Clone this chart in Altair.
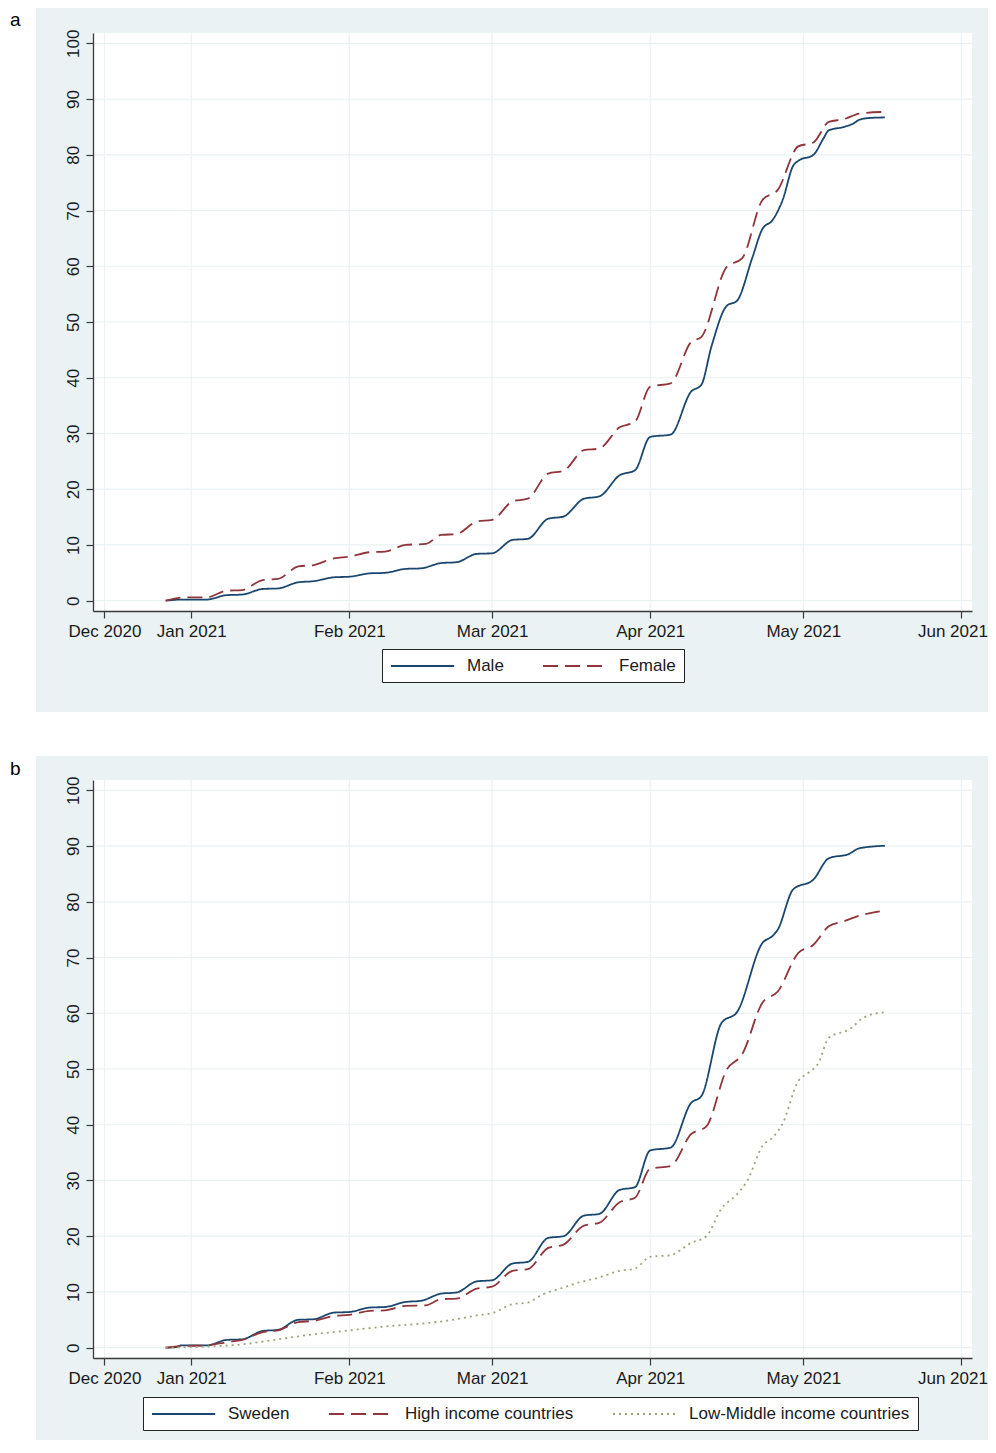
import altair as alt
import pandas as pd

FONT = "Liberation Sans"
BG = "#EAF2F3"
GRID = "#EAF2F3"
AXIS = "#3a3a3a"
TXT = "#1a1a1a"

# ---------------- Panel a : Male / Female (days since 1 Jan 2021) ----------------
male_days = [-5, -2, 3, 7, 10, 14, 17, 21, 24, 28, 31, 35, 38, 42, 45, 49, 52, 56, 59,
             63, 66, 70, 73, 77, 80, 84, 87, 90, 94, 98, 100, 102, 105, 107, 110, 112,
             114, 116, 118, 119, 122, 124, 125, 128, 130, 131, 133, 136]
male_vals = [0, 0.2, 0.2, 1.0, 1.1, 2.1, 2.2, 3.3, 3.5, 4.2, 4.3, 4.9, 5.0, 5.7, 5.8, 6.75, 6.9, 8.4, 8.5,
             10.9, 11.1, 14.7, 15.1, 18.3, 18.7, 22.5, 23.4, 29.4, 29.8, 37.5, 38.7, 45.6, 52.9, 53.8, 61.5, 66.7,
             68.3, 72.0, 78.0, 78.9, 80.0, 83.0, 84.4, 85.0, 85.7, 86.3, 86.6, 86.7]

female_days = [-5, -1, 3, 7, 10, 14, 17, 21, 24, 28, 31, 35, 38, 42, 46, 49, 52, 56, 59,
               63, 66, 70, 73, 77, 80, 84, 87, 90, 94, 98, 100, 105, 108, 112, 115, 119,
               122, 125, 128, 131, 136]
female_vals = [0, 0.6, 0.6, 1.8, 1.9, 3.7, 3.9, 6.15, 6.4, 7.6, 7.9, 8.7, 8.8, 10.0, 10.2, 11.8, 11.95, 14.2, 14.5,
               17.8, 18.3, 22.8, 23.3, 27.0, 27.3, 31.1, 32.1, 38.4, 39.0, 46.4, 47.3, 59.9, 61.4, 71.9, 73.7, 81.5,
               82.2, 85.9, 86.4, 87.4, 87.7]

# ---------------- Panel b : Sweden / income groups ----------------
sweden_days = [-5, -3, -2, 3, 7, 10, 14, 17, 21, 24, 28, 31, 35, 38, 42, 45, 49, 52, 56, 59,
               63, 66, 70, 73, 77, 80, 84, 87, 90, 94, 98, 100, 104, 107, 112, 114, 115, 118,
               122, 125, 129, 131, 136]
sweden_vals = [0, 0.1, 0.4, 0.4, 1.4, 1.5, 3.0, 3.2, 5.0, 5.1, 6.3, 6.4, 7.2, 7.3, 8.2, 8.4, 9.7, 9.9, 11.9, 12.1,
               15.1, 15.4, 19.7, 20.0, 23.7, 24.0, 28.3, 28.8, 35.4, 35.9, 43.9, 45.1, 58.3, 60.2, 72.6, 73.9, 75.0, 82.2,
               84.0, 87.8, 88.6, 89.6, 90.05]

high_days = [-5, -2, 3, 7, 10, 14, 17, 21, 24, 28, 31, 35, 38, 42, 46, 49, 52, 56, 59,
             63, 66, 70, 73, 77, 80, 84, 87, 90, 94, 98, 101, 105, 108, 112, 115, 119,
             122, 125, 128, 131, 135]
high_vals = [0, 0.3, 0.4, 1.0, 1.4, 2.8, 3.1, 4.6, 4.8, 5.7, 5.9, 6.6, 6.7, 7.5, 7.6, 8.7, 8.8, 10.6, 10.95,
             13.8, 14.1, 17.9, 18.5, 21.9, 22.4, 26.1, 26.9, 32.1, 32.6, 38.3, 39.7, 49.9, 52.6, 61.9, 63.9, 70.8,
             72.3, 75.6, 76.5, 77.5, 78.3]

low_days = [-5, 3, 10, 17, 24, 31, 38, 46, 52, 56, 59, 63, 66, 69, 72, 76, 80, 84, 87,
            90, 94, 98, 101, 104, 107, 109, 112, 114, 116, 119, 121, 123, 125, 129, 132, 136]
low_vals = [0, 0.2, 0.6, 1.5, 2.4, 3.1, 3.8, 4.4, 5.1, 5.8, 6.2, 7.8, 8.1, 9.6, 10.5, 11.7, 12.6, 13.8, 14.2,
            16.3, 16.6, 18.8, 20.0, 25.0, 27.5, 29.9, 36.2, 37.7, 40.3, 47.8, 49.3, 51.1, 55.6, 57.1, 59.3, 60.2]

# axis ticks
y_ticks = [0, 10, 20, 30, 40, 50, 60, 70, 80, 90, 100]
x_ticks = [(2020, 12, 15), (2021, 1, 1), (2021, 2, 1), (2021, 3, 1), (2021, 4, 1), (2021, 5, 1), (2021, 6, 1)]

series_a = ["Male", "Female"]
series_b = ["Sweden", "High income countries", "Low-Middle income countries"]
colors_a = ["#1A476F", "#90353B"]
colors_b = ["#1A476F", "#90353B", "#A0A37C"]
dash_a = [[1, 0], [15, 7]]
dash_b = [[1, 0], [15, 7], [2, 4]]

BASE = pd.Timestamp("2021-01-01")


def make_df(pairs):
    frames = []
    for name, days, vals in pairs:
        frames.append(pd.DataFrame({
            "date": [BASE + pd.Timedelta(days=d) for d in days],
            "value": vals,
            "series": name,
        }))
    return pd.concat(frames, ignore_index=True)


df_a = make_df([("Male", male_days, male_vals), ("Female", female_days, female_vals)])
df_b = make_df([("Sweden", sweden_days, sweden_vals),
                ("High income countries", high_days, high_vals),
                ("Low-Middle income countries", low_days, low_vals)])

W, H = 879, 578
LW = 1.8

x_scale = alt.Scale(domain=[alt.DateTime(year=2020, month=12, date=12, hours=18),
                            alt.DateTime(year=2021, month=6, date=3, hours=2)], nice=False)
y_scale = alt.Scale(domain=[-1.85, 101.85], nice=False, zero=False)

x_axis = alt.Axis(values=[alt.DateTime(year=y, month=m, date=d) for (y, m, d) in x_ticks],
                  format="%b %Y", formatType="time", title=None, grid=False,
                  tickSize=7, tickColor=AXIS, tickWidth=1.2, domainColor=AXIS, domainWidth=1.3,
                  labelFont=FONT, labelFontSize=17, labelColor=TXT, labelPadding=5,
                  labelFlush=11, labelFlushOffset=26, labelOverlap=False, zindex=1)
y_axis = alt.Axis(values=y_ticks, title=None, grid=False, labelAngle=270,
                  labelAlign="center", labelBaseline="bottom",
                  tickSize=7, tickColor=AXIS, tickWidth=1.2, domainColor=AXIS, domainWidth=1.3,
                  labelFont=FONT, labelFontSize=17, labelColor=TXT, labelPadding=4,
                  labelFlush=False, labelOverlap=False, zindex=1)

xgrid_df = pd.DataFrame({"date": [pd.Timestamp(year=y, month=m, day=d) for (y, m, d) in x_ticks]})
ygrid_df = pd.DataFrame({"value": y_ticks})
one = pd.DataFrame({"k": [0]})


def panel(df, series, colors, dashes, tag, tag_y, rect_top, rect_bottom, lx, ly):
    spacer = alt.Chart(one).mark_rect(color="white").encode(
        x=alt.value(-85), x2=alt.value(-57), y=alt.value(rect_top), y2=alt.value(rect_top + 1))
    bg = alt.Chart(one).mark_rect(color=BG).encode(
        x=alt.value(-57), x2=alt.value(895), y=alt.value(rect_top), y2=alt.value(rect_bottom))
    plot_bg = alt.Chart(one).mark_rect(color="white").encode(
        x=alt.value(0), x2=alt.value(W), y=alt.value(0), y2=alt.value(H))
    vgrid = alt.Chart(xgrid_df).mark_rule(color=GRID, strokeWidth=1.2).encode(
        x=alt.X("date:T", scale=x_scale, axis=x_axis), y=alt.value(0), y2=alt.value(H))
    hgrid = alt.Chart(ygrid_df).mark_rule(color=GRID, strokeWidth=1.2).encode(
        y=alt.Y("value:Q", scale=y_scale, axis=y_axis), x=alt.value(0), x2=alt.value(W))
    legend = alt.Legend(title=None, orient="none", legendX=lx, legendY=ly, direction="horizontal")
    lines = alt.Chart(df).mark_line(interpolate="monotone", strokeWidth=LW).encode(
        x=alt.X("date:T", scale=x_scale, axis=x_axis),
        y=alt.Y("value:Q", scale=y_scale, axis=y_axis),
        color=alt.Color("series:N", scale=alt.Scale(domain=series, range=colors), legend=legend),
        strokeDash=alt.StrokeDash("series:N", scale=alt.Scale(domain=series, range=dashes), legend=legend),
        detail="series:N",
    )
    label = alt.Chart(pd.DataFrame({"t": [tag]})).mark_text(
        align="left", baseline="alphabetic", font=FONT, fontSize=19, color="#000").encode(
        text="t:N", x=alt.value(-83), y=alt.value(tag_y))
    return alt.layer(spacer, bg, plot_bg, vgrid, hgrid, lines, label).properties(width=W, height=H)


pa = panel(df_a, series_a, colors_a, dash_a, "a", -7.5, -25, 679, 289, 616)
pb = panel(df_b, series_b, colors_b, dash_b, "b", -5, -24, 660, 50, 617)

chart = alt.vconcat(pa, pb, spacing=44).resolve_scale(
    color="independent", strokeDash="independent"
).properties(padding=0, background="white").configure_view(stroke=None).configure_legend(
    symbolType="M-1,0H6.9", symbolSize=256, symbolStrokeWidth=LW,
    labelFont=FONT, labelFontSize=17, labelColor=TXT, labelLimit=400,
    strokeColor="#222222", fillColor="white", padding=8, columnPadding=35, labelOffset=59,
)

chart.save("out.html", embed_options={"renderer": "svg", "actions": False})
